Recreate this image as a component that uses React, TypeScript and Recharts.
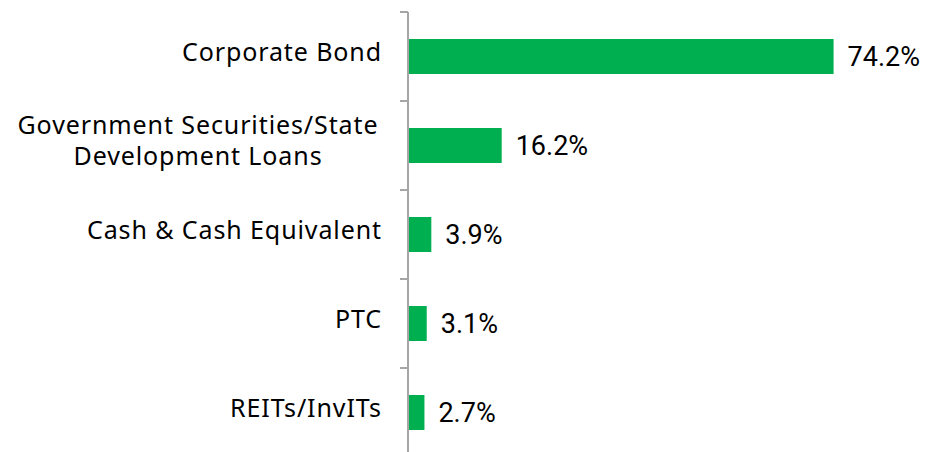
import React from 'react';
import { BarChart, Bar, XAxis, YAxis, LabelList } from 'recharts';

const categories = [
  'Corporate Bond',
  'Government Securities/State\nDevelopment Loans',
  'Cash & Cash Equivalent',
  'PTC',
  'REITs/InvITs',
];
const values = [74.2, 16.2, 3.9, 3.1, 2.7];
// boundaries between the 5 categories on a 0..4 helper scale
const boundaryTicks = [0, 0.8, 1.6, 2.4, 3.2, 4];

const data = categories.map((c, i) => ({ name: c, value: values[i] }));

const FONT = "'Noto Sans', sans-serif";

const EmptyTick = () => <g />;

const CatTick = (props: any) => {
  const { x, y, payload } = props;
  const lines = String(payload.value).split('\n');
  const lh = 31;
  const start = y - ((lines.length - 1) * lh) / 2 - 6;
  if (lines.length > 1) {
    return (
      <g>
        {lines.map((l, i) => (
          <text key={i} x={x - 184} y={start + i * lh} textAnchor="middle" dominantBaseline="central"
            fontFamily={FONT} fontSize={25} letterSpacing={0.9} fill="#000">{l}</text>
        ))}
      </g>
    );
  }
  return (
    <text x={x} y={start} textAnchor="end" dominantBaseline="central"
      fontFamily={FONT} fontSize={25} letterSpacing={0.9} fill="#000">{lines[0]}</text>
  );
};

export default function App() {
  return (
    <div style={{ position: 'absolute', left: 0, top: 0, width: 931, height: 452, overflow: 'hidden', background: '#fff' }}>
      <BarChart width={931} height={460} data={data} layout="vertical"
        margin={{ top: 12, right: 7, bottom: 3, left: 0 }}>
        <XAxis type="number" domain={[0, 90]} hide />
        <YAxis yAxisId="grid" type="number" scale="linear" domain={[0, 4]} ticks={boundaryTicks} width={408}
          allowDataOverflow interval={0}
          axisLine={{ stroke: '#a6a6a6', strokeWidth: 2 }}
          tickLine={{ stroke: '#a6a6a6', strokeWidth: 2 }}
          tickSize={8} tick={<EmptyTick />} />
        <YAxis yAxisId="cat" type="category" dataKey="name" width={1} interval={0}
          axisLine={false} tickLine={false}
          tickSize={8} tickMargin={19} tick={<CatTick />} />
        <Bar yAxisId="cat" dataKey="value" fill="#00b050" barSize={35} isAnimationActive={false}>
          <LabelList dataKey="value" position="right" offset={14}
            formatter={(v: any) => `${Number(v).toFixed(1)}%`}
            style={{ fontFamily: 'Roboto, sans-serif', fontSize: 27, fill: '#000' }} />
        </Bar>
      </BarChart>
    </div>
  );
}
